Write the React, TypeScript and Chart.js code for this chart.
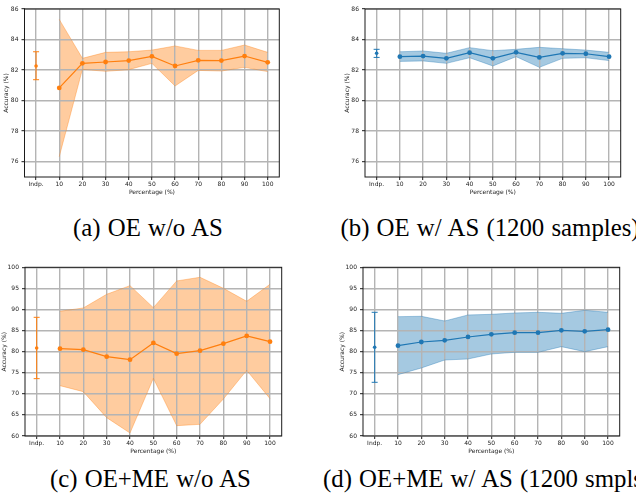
import React, { useEffect, useRef } from "react";
import { Chart, registerables } from "chart.js";
Chart.register(...registerables);

const categories = ["Indp.", "10", "20", "30", "40", "50", "60", "70", "80", "90", "100"];
const yTicksTop = [76, 78, 80, 82, 84, 86];
const yTicksBottom = [60, 65, 70, 75, 80, 85, 90, 95, 100];

// (a) OE w/o AS  — Indp. errorbar: [low, mean, high]
const aIndp = [81.37, 82.27, 83.2];
const aMean = [null, 80.83, 82.44, 82.53, 82.62, 82.9, 82.27, 82.64, 82.62, 82.92, 82.51];
const aUpper = [null, 85.32, 82.77, 83.16, 83.2, 83.31, 83.58, 83.29, 83.29, 83.64, 83.16];
const aLower = [null, 76.33, 82.05, 81.92, 82.03, 82.44, 80.96, 81.98, 81.94, 82.18, 81.9];

// (b) OE w/ AS (1200 samples)
const bIndp = [82.83, 83.1, 83.36];
const bMean = [null, 82.88, 82.92, 82.77, 83.14, 82.77, 83.16, 82.83, 83.1, 83.07, 82.88];
const bUpper = [null, 83.2, 83.25, 83.1, 83.47, 83.27, 83.36, 83.49, 83.4, 83.31, 83.16];
const bLower = [null, 82.57, 82.6, 82.44, 82.81, 82.27, 82.88, 82.18, 82.77, 82.81, 82.62];

// (c) OE+ME w/o AS
const cIndp = [73.6, 80.87, 88.14];
const cMean = [null, 80.71, 80.47, 78.81, 78.1, 82.06, 79.53, 80.24, 81.9, 83.72, 82.37];
const cUpper = [null, 89.57, 90.36, 93.6, 95.65, 90.43, 96.76, 97.63, 95.02, 91.94, 95.97];
const cLower = [null, 71.94, 70.51, 64.35, 60.71, 73.68, 62.45, 62.77, 68.77, 75.57, 68.85];

// (d) OE+ME w/ AS (1200 smpls)
const dIndp = [72.73, 81.03, 89.33];
const dMean = [null, 81.42, 82.29, 82.69, 83.48, 84.11, 84.5, 84.5, 85.06, 84.82, 85.2];
const dUpper = [null, 88.3, 88.38, 87.27, 88.7, 88.85, 89.17, 89.33, 89.09, 89.8, 89.33];
const dLower = [null, 74.55, 76.13, 78.02, 78.26, 79.45, 79.84, 79.84, 81.19, 80.0, 81.19];

const ORANGE = "#ff7f0e";
const ORANGE_FILL = "rgba(255,127,14,0.4)";
const ORANGE_EDGE = "rgba(255,127,14,0.45)";
const BLUE = "#1f77b4";
const BLUE_FILL = "rgba(31,119,180,0.4)";
const BLUE_EDGE = "rgba(31,119,180,0.45)";

const FONT = "DejaVu Sans";
const FS = 6;
const HALF_LH = (FS * 1.2) / 2;

type Geo = {
  cx: number; cy: number; w: number; h: number;
  L: number; R: number; T: number; B: number; yt: number; xt: number;
};

const framePlugin = {
  id: "frame",
  afterDraw(chart: any) {
    const { ctx, chartArea: a } = chart;
    ctx.save();
    ctx.strokeStyle = "#1a1a1a";
    ctx.lineWidth = 1;
    ctx.strokeRect(a.left, a.top, a.right - a.left, a.bottom - a.top);
    ctx.restore();
  },
};

function Panel(props: {
  geo: Geo; yTicks: number[]; yMin: number; yMax: number;
  indp: number[]; mean: (number | null)[]; upper: (number | null)[]; lower: (number | null)[];
  color: string; fill: string; edge: string;
}) {
  const ref = useRef<HTMLCanvasElement>(null);
  const { geo, yTicks, yMin, yMax, indp, mean, upper, lower, color, fill, edge } = props;
  useEffect(() => {
    const padLeft = geo.yt - HALF_LH - geo.cx;
    const yAxisW = geo.L - geo.cx - padLeft;
    const padRight = geo.cx + geo.w - geo.R;
    const padTop = geo.T - geo.cy;
    const xBoxBottom = geo.xt + HALF_LH;
    const xAxisH = xBoxBottom - geo.B;
    const padBottom = geo.cy + geo.h - xBoxBottom;
    const chart = new Chart(ref.current as HTMLCanvasElement, {
      type: "line",
      data: {
        labels: categories,
        datasets: [
          {
            label: "mean",
            data: mean,
            borderColor: color,
            backgroundColor: color,
            borderWidth: 1.2,
            pointRadius: 2.4,
            pointBorderWidth: 0,
            pointBackgroundColor: color,
            fill: false,
          },
          {
            label: "indpMean",
            data: categories.map((_, i) => (i === 0 ? indp[1] : null)),
            borderColor: color,
            backgroundColor: color,
            showLine: false,
            pointRadius: 1.8,
            pointBorderWidth: 0,
            pointBackgroundColor: color,
            fill: false,
          },
          {
            label: "indpErr",
            data: [
              { x: categories[0], y: indp[0] },
              { x: categories[0], y: indp[2] },
            ] as any,
            borderColor: color,
            borderWidth: 1,
            pointStyle: "line",
            pointRadius: 3,
            pointBorderWidth: 1,
            pointBorderColor: color,
            fill: false,
          },
          {
            label: "upper",
            data: upper,
            borderColor: edge,
            borderWidth: 0.8,
            pointRadius: 0,
            backgroundColor: fill,
            fill: "+1",
          },
          {
            label: "lower",
            data: lower,
            borderColor: edge,
            borderWidth: 0.8,
            pointRadius: 0,
            fill: false,
          },
        ],
      },
      options: {
        animation: false,
        responsive: false,
        devicePixelRatio: 1,
        events: [],
        layout: { padding: { left: padLeft, right: padRight, top: padTop, bottom: padBottom } },
        plugins: {
          legend: { display: false },
          tooltip: { enabled: false },
          filler: { drawTime: "beforeDraw" } as any,
        },
        scales: {
          x: {
            type: "category",
            offset: true,
            grid: { offset: false, color: "#b4b4b4", lineWidth: 1.4, tickLength: 3, tickColor: "#1a1a1a", tickWidth: 1 },
            border: { display: false },
            ticks: { color: "#1a1a1a", font: { family: FONT, size: FS }, padding: 1, maxRotation: 0, autoSkip: false },
            title: { display: true, text: "Percentage (%)", color: "#1a1a1a", font: { family: FONT, size: FS, lineHeight: 1.2 }, padding: 0 },
            afterFit: (s: any) => { s.height = xAxisH; },
          },
          y: {
            type: "linear",
            min: yMin,
            max: yMax,
            grid: { color: "#b4b4b4", lineWidth: 1.4, tickLength: 3, tickColor: "#1a1a1a", tickWidth: 1 },
            border: { display: false },
            ticks: { color: "#1a1a1a", font: { family: FONT, size: FS }, padding: 3 },
            title: { display: true, text: "Accuracy (%)", color: "#1a1a1a", font: { family: FONT, size: FS, lineHeight: 1.2 }, padding: 0 },
            afterBuildTicks: (s: any) => { s.ticks = yTicks.map((v) => ({ value: v })); },
            afterFit: (s: any) => { s.width = yAxisW; },
          },
        },
      },
      plugins: [framePlugin],
    });
    return () => chart.destroy();
  }, []);
  return (
    <canvas
      ref={ref}
      width={geo.w}
      height={geo.h}
      style={{ position: "absolute", left: geo.cx, top: geo.cy, width: geo.w, height: geo.h }}
    />
  );
}

const captionStyle: React.CSSProperties = {
  position: "absolute",
  fontFamily: "'Liberation Serif', 'Times New Roman', serif",
  fontSize: 24.8,
  lineHeight: "24px",
  color: "#000",
  whiteSpace: "nowrap",
  wordSpacing: 1,
};

export default function App() {
  const geoA: Geo = { cx: 0, cy: 0, w: 318, h: 210, L: 24.5, R: 279.3, T: 9, B: 177, yt: 6, xt: 192 };
  const geoB: Geo = { cx: 318, cy: 0, w: 318, h: 210, L: 365, R: 620.7, T: 9, B: 177, yt: 347.3, xt: 192.3 };
  const geoC: Geo = { cx: 0, cy: 250, w: 318, h: 215, L: 25, R: 281.7, T: 267.3, B: 436, yt: 4.7, xt: 451.3 };
  const geoD: Geo = { cx: 318, cy: 250, w: 318, h: 215, L: 363, R: 619.7, T: 267.3, B: 436, yt: 342, xt: 451.3 };
  return (
    <div style={{ position: "absolute", left: 0, top: 0, width: 636, height: 500, overflow: "hidden", background: "#fff" }}>
      <Panel geo={geoA} yTicks={yTicksTop} yMin={75} yMax={86} indp={aIndp} mean={aMean} upper={aUpper} lower={aLower} color={ORANGE} fill={ORANGE_FILL} edge={ORANGE_EDGE} />
      <Panel geo={geoB} yTicks={yTicksTop} yMin={75} yMax={86} indp={bIndp} mean={bMean} upper={bUpper} lower={bLower} color={BLUE} fill={BLUE_FILL} edge={BLUE_EDGE} />
      <Panel geo={geoC} yTicks={yTicksBottom} yMin={60} yMax={100} indp={cIndp} mean={cMean} upper={cUpper} lower={cLower} color={ORANGE} fill={ORANGE_FILL} edge={ORANGE_EDGE} />
      <Panel geo={geoD} yTicks={yTicksBottom} yMin={60} yMax={100} indp={dIndp} mean={dMean} upper={dUpper} lower={dLower} color={BLUE} fill={BLUE_FILL} edge={BLUE_EDGE} />
      <span style={{ ...captionStyle, left: 73, top: 216 }}>(a) OE w/o AS</span>
      <span style={{ ...captionStyle, left: 340.5, top: 216 }}>(b) OE w/ AS (1200 samples)</span>
      <span style={{ ...captionStyle, left: 50, top: 466.6 }}>(c) OE+ME w/o AS</span>
      <span style={{ ...captionStyle, left: 323, top: 466.6 }}>(d) OE+ME w/ AS (1200 smpls)</span>
    </div>
  );
}
